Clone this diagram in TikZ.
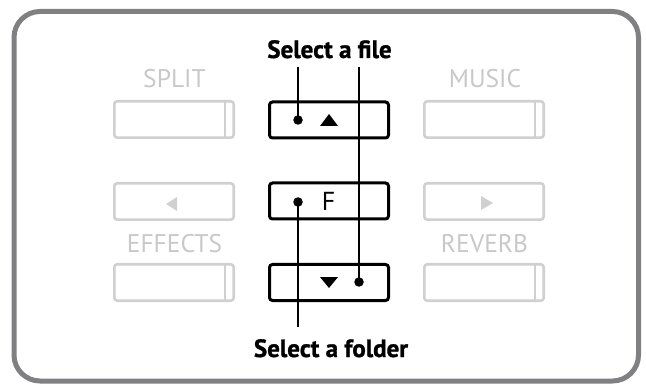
\documentclass[tikz,border=0pt]{standalone}
\usepackage{fontspec}
\setmainfont{PT Sans}[BoldFeatures={FakeBold=1.2}]
\definecolor{framegray}{HTML}{808082}
\definecolor{btngray}{HTML}{D0D0D0}
\definecolor{txtgray}{HTML}{C8C8C8}
\begin{document}
\begin{tikzpicture}[x=1pt,y=-1pt,
  frame/.style={draw=framegray,line width=5pt,rounded corners=26pt},
  gbtn/.style={draw=btngray,line width=2.6pt,rounded corners=3pt,minimum width=119.4pt,minimum height=36.4pt,inner sep=0pt},
  bbtn/.style={draw=black,line width=3pt,rounded corners=3pt,minimum width=119pt,minimum height=36pt,inner sep=0pt},
  glabel/.style={text=txtgray,font=\fontsize{25.5}{25.5}\selectfont,inner sep=0pt,anchor=base},
  title/.style={font=\fontsize{25}{25}\selectfont\bfseries,inner sep=0pt,anchor=base},
  dotn/.style={circle,fill=black,inner sep=0pt,minimum size=9.5pt},
  conn/.style={line width=1.8pt},
  sepline/.style={draw=btngray,line width=2.6pt}]
\useasboundingbox (0,0) rectangle (646,385);
\draw[frame] (14,11.5) rectangle (638.5,381);

% gray buttons
\node[gbtn] (split) at (174,119.5) {};
\node[gbtn] (left) at (174,201.5) {};
\node[gbtn] (effects) at (174,282.5) {};
\node[gbtn] (music) at (484,119.5) {};
\node[gbtn] (right) at (484,201.5) {};
\node[gbtn] (reverb) at (484,282.5) {};
\foreach \b in {split,effects,music,reverb}
  \draw[sepline] ([xshift=-10pt]\b.north east) -- ([xshift=-10pt]\b.south east);

\node[glabel] (splitlbl) at (174.5,88) {SPLIT};
\node[glabel] (musiclbl) at (485,88) {MUSIC};
\node[glabel] (effectslbl) at (174.5,252) {EFFECTS};
\node[glabel] (reverblbl) at (484.5,252) {REVERB};

\fill[btngray] (177,197) -- (177,211) -- (166,204) -- cycle;
\fill[btngray] (481,196) -- (481,210) -- (493,203) -- cycle;

% black buttons
\node[bbtn] (up) at (329,120) {};
\node[bbtn] (fbtn) at (329,201) {};
\node[bbtn] (down) at (329,282.5) {};
\node[font=\fontsize{26}{26}\selectfont,inner sep=0pt,anchor=base] (flbl) at (328.5,211) {F};
\fill (320,126) -- (338,126) -- (329,114) -- cycle;
\fill (320,277) -- (338,277) -- (329,288) -- cycle;

% titles
\node[title] (filetitle) at (329.5,58) {Select a file};
\node[title] (foldertitle) at (331,357) {Select a folder};

% dots and connectors
\node[dotn] (dot1) at (298,120) {};
\node[dotn] (dot2) at (298,202) {};
\node[dotn] (dot3) at (359,282) {};
\coordinate (fileL) at (298,67);
\coordinate (fileR) at (359,67);
\coordinate (folderB) at (298,327);
\draw[conn] (fileL) -- (dot1.center);
\draw[conn] (fileR) -- (dot3.center);
\draw[conn] (dot2.center) -- (folderB);
\end{tikzpicture}
\end{document}
